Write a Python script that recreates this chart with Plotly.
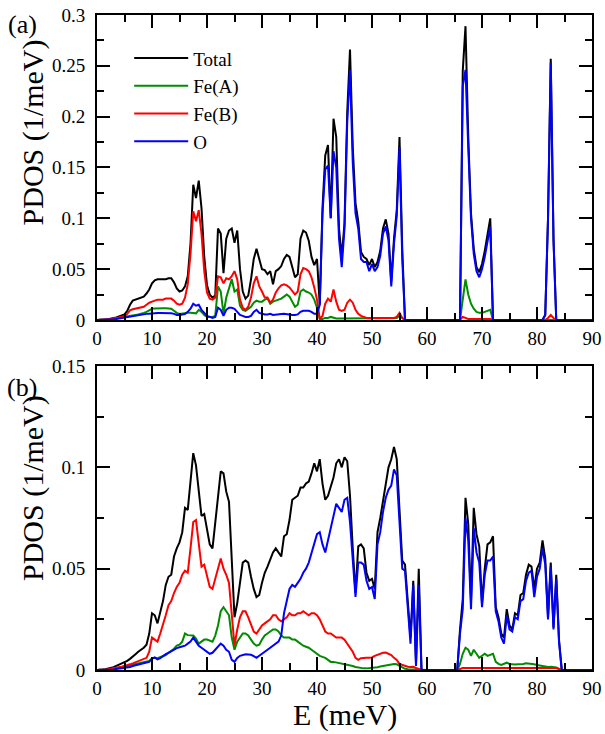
import numpy as np
import plotly.graph_objects as go

# Energy grid (meV), 0.5 meV step
E = np.arange(0, 90.25, 0.5)

# ---------------- Panel (a) ----------------
total_a = [
    0, 0, 0.0003, 0.0005, 0.0008, 0.0012, 0.0018, 0.0025, 0.0035, 0.0045, 0.0055, 0.009, 0.015, 0.019, 0.020, 0.021, 0.022, 0.023, 0.026, 0.030,
    0.036, 0.039, 0.040, 0.040, 0.040, 0.040, 0.041, 0.041, 0.037, 0.031, 0.028, 0.029, 0.033, 0.043, 0.075, 0.133, 0.120, 0.137, 0.110, 0.062,
    0.034, 0.025, 0.022, 0.024, 0.090, 0.085, 0.046, 0.080, 0.088, 0.090, 0.076, 0.088, 0.050, 0.028, 0.021, 0.024, 0.040, 0.060, 0.070, 0.060,
    0.050, 0.049, 0.045, 0.048, 0.035, 0.048, 0.050, 0.053, 0.060, 0.064, 0.062, 0.052, 0.042, 0.045, 0.080, 0.088, 0.086, 0.078, 0.062, 0.054,
    0.060, 0.015, 0.110, 0.162, 0.172, 0.100, 0.198, 0.180, 0.090, 0.062, 0.095, 0.205, 0.266, 0.170, 0.115, 0.097, 0.067, 0.062, 0.060, 0.054,
    0.060, 0.052, 0.057, 0.068, 0.090, 0.099, 0.085, 0.038, 0.080, 0.108, 0.180, 0.070, 0, 0, 0, 0, 0, 0, 0, 0,
    0, 0, 0, 0, 0, 0, 0, 0, 0, 0, 0, 0, 0, 0.245, 0.289, 0.180, 0.105, 0.070, 0.052, 0.047,
    0.055, 0.068, 0.085, 0.100, 0, 0, 0, 0, 0, 0, 0, 0, 0, 0, 0, 0, 0, 0, 0, 0,
    0, 0, 0, 0.005, 0.100, 0.257, 0.080, 0, 0, 0, 0, 0, 0, 0, 0, 0, 0, 0, 0, 0,
    0,
]
feA_a = [
    0, 0, 0.0001, 0.0003, 0.0005, 0.0008, 0.0012, 0.0016, 0.002, 0.0025, 0.003, 0.0035, 0.004, 0.0045, 0.005, 0.0055, 0.006, 0.007, 0.008, 0.0095,
    0.011, 0.0112, 0.0115, 0.0115, 0.0115, 0.0115, 0.0115, 0.011, 0.009, 0.007, 0.006, 0.0065, 0.007, 0.007, 0.007, 0.007, 0.0065, 0.010, 0.008, 0.005,
    0.003, 0.003, 0.003, 0.004, 0.033, 0.028, 0.006, 0.022, 0.032, 0.040, 0.028, 0.030, 0.014, 0.010, 0.009, 0.011, 0.013, 0.017, 0.019, 0.018,
    0.018, 0.020, 0.021, 0.016, 0.018, 0.019, 0.020, 0.021, 0.023, 0.025, 0.023, 0.018, 0.013, 0.015, 0.028, 0.030, 0.028, 0.027, 0.025, 0.020,
    0.012, 0.001, 0.001, 0.002, 0.002, 0.003, 0.002, 0.0015, 0.0015, 0.0015, 0.0015, 0.0015, 0.0015, 0.0015, 0.0015, 0.0015, 0.0015, 0.0015, 0.0015, 0.0015,
    0.0015, 0.0015, 0.0015, 0.0015, 0.0015, 0.0015, 0.0015, 0.0015, 0.0015, 0.002, 0.004, 0.002, 0, 0, 0, 0, 0, 0, 0, 0,
    0, 0, 0, 0, 0, 0, 0, 0, 0, 0, 0, 0, 0, 0.020, 0.040, 0.025, 0.016, 0.011, 0.008, 0.007,
    0.007, 0.008, 0.009, 0.010, 0, 0, 0, 0, 0, 0, 0, 0, 0, 0, 0, 0, 0, 0, 0, 0,
    0, 0, 0, 0, 0, 0, 0, 0, 0, 0, 0, 0, 0, 0, 0, 0, 0, 0, 0, 0,
    0,
]
feB_a = [
    0, 0, 0.0002, 0.0004, 0.0006, 0.001, 0.0014, 0.002, 0.0025, 0.003, 0.0035, 0.006, 0.0095, 0.0105, 0.011, 0.0115, 0.012, 0.013, 0.015, 0.017,
    0.018, 0.019, 0.020, 0.020, 0.020, 0.021, 0.021, 0.021, 0.019, 0.016, 0.015, 0.016, 0.022, 0.035, 0.065, 0.107, 0.097, 0.108, 0.085, 0.048,
    0.027, 0.021, 0.020, 0.022, 0.043, 0.042, 0.036, 0.041, 0.040, 0.043, 0.048, 0.040, 0.020, 0.012, 0.010, 0.013, 0.022, 0.036, 0.043, 0.033,
    0.028, 0.022, 0.022, 0.017, 0.020, 0.027, 0.031, 0.034, 0.035, 0.034, 0.032, 0.028, 0.025, 0.028, 0.045, 0.051, 0.050, 0.048, 0.042, 0.032,
    0.020, 0.001, 0.004, 0.016, 0.021, 0.018, 0.030, 0.018, 0.010, 0.009, 0.010, 0.017, 0.020, 0.017, 0.010, 0.006, 0.004, 0.003, 0.002, 0.002,
    0.002, 0.002, 0.002, 0.002, 0.002, 0.002, 0.002, 0.002, 0.002, 0.003, 0.007, 0.002, 0, 0, 0, 0, 0, 0, 0, 0,
    0, 0, 0, 0, 0, 0, 0, 0, 0, 0, 0, 0, 0, 0.003, 0.002, 0.001, 0.001, 0.001, 0.001, 0.001,
    0.001, 0.001, 0.001, 0.001, 0, 0, 0, 0, 0, 0, 0, 0, 0, 0, 0, 0, 0, 0, 0, 0,
    0, 0, 0, 0, 0.002, 0.005, 0.002, 0, 0, 0, 0, 0, 0, 0, 0, 0, 0, 0, 0, 0,
    0,
]
o_a = [
    0, 0, 0, 0.0001, 0.0002, 0.0004, 0.0007, 0.001, 0.0015, 0.002, 0.0025, 0.003, 0.0035, 0.004, 0.0045, 0.005, 0.0052, 0.0055, 0.006, 0.0062,
    0.0066, 0.0068, 0.0068, 0.0068, 0.0068, 0.0068, 0.0068, 0.0065, 0.006, 0.005, 0.005, 0.0055, 0.0058, 0.008, 0.011, 0.016, 0.014, 0.015, 0.010, 0.007,
    0.004, 0.003, 0.002, 0.003, 0.012, 0.010, 0.004, 0.010, 0.012, 0.012, 0.011, 0.008, 0.005, 0.004, 0.003, 0.003, 0.004, 0.008, 0.010, 0.007,
    0.006, 0.0055, 0.0055, 0.006, 0.005, 0.0055, 0.0055, 0.0058, 0.006, 0.0055, 0.0055, 0.005, 0.005, 0.0055, 0.008, 0.009, 0.009, 0.009, 0.008, 0.006,
    0.006, 0.015, 0.105, 0.148, 0.152, 0.100, 0.166, 0.150, 0.080, 0.052, 0.090, 0.195, 0.246, 0.155, 0.105, 0.090, 0.060, 0.057, 0.057, 0.048,
    0.055, 0.048, 0.052, 0.063, 0.085, 0.092, 0.078, 0.033, 0.075, 0.102, 0.170, 0.060, 0, 0, 0, 0, 0, 0, 0, 0,
    0, 0, 0, 0, 0, 0, 0, 0, 0, 0, 0, 0, 0, 0.230, 0.246, 0.170, 0.100, 0.065, 0.048, 0.042,
    0.050, 0.062, 0.078, 0.092, 0, 0, 0, 0, 0, 0, 0, 0, 0, 0, 0, 0, 0, 0, 0, 0,
    0, 0, 0, 0.005, 0.098, 0.253, 0.078, 0, 0, 0, 0, 0, 0, 0, 0, 0, 0, 0, 0, 0,
    0,
]

# ---------------- Panel (b) ----------------
total_b = [
    0, 0, 0.0002, 0.0004, 0.0007, 0.001, 0.0014, 0.002, 0.0026, 0.0032, 0.0038, 0.0045, 0.0055, 0.0065, 0.0078, 0.009, 0.010, 0.011, 0.0125, 0.018,
    0.028, 0.027, 0.023, 0.028, 0.034, 0.042, 0.046, 0.047, 0.056, 0.060, 0.063, 0.068, 0.080, 0.079, 0.092, 0.107, 0.101, 0.089, 0.076, 0.077,
    0.069, 0.062, 0.060, 0.072, 0.085, 0.098, 0.097, 0.088, 0.083, 0.050, 0.026, 0.033, 0.043, 0.053, 0.054, 0.053, 0.046, 0.040, 0.036, 0.037,
    0.043, 0.048, 0.051, 0.055, 0.058, 0.060, 0.058, 0.056, 0.066, 0.067, 0.074, 0.084, 0.085, 0.086, 0.090, 0.090, 0.092, 0.093, 0.097, 0.102,
    0.098, 0.104, 0.092, 0.084, 0.086, 0.090, 0.095, 0.102, 0.104, 0.100, 0.105, 0.103, 0.086, 0.060, 0.038, 0.061, 0.062, 0.060, 0.048, 0.044,
    0.045, 0.040, 0.068, 0.075, 0.083, 0.093, 0.100, 0.104, 0.110, 0.104, 0.077, 0.054, 0.052, 0.032, 0.016, 0.044, 0.003, 0.050, 0, 0,
    0, 0, 0, 0, 0, 0, 0, 0, 0, 0, 0, 0, 0.020, 0.035, 0.085, 0.072, 0.034, 0.080, 0.067, 0.061,
    0.033, 0.050, 0.062, 0.063, 0.066, 0.031, 0.026, 0.018, 0.016, 0.030, 0.022, 0.020, 0.028, 0.027, 0.037, 0.038, 0.047, 0.052, 0.051, 0.040,
    0.050, 0.053, 0.064, 0.055, 0.026, 0.053, 0.021, 0.047, 0.015, 0, 0, 0, 0, 0, 0, 0, 0, 0, 0, 0,
    0,
]
feA_b = [
    0, 0, 0.0001, 0.0002, 0.0003, 0.0005, 0.0007, 0.0009, 0.0011, 0.0014, 0.0017, 0.002, 0.0023, 0.0026, 0.0029, 0.0032, 0.0035, 0.0038, 0.004, 0.0045,
    0.0058, 0.006, 0.0058, 0.0063, 0.007, 0.0074, 0.0085, 0.0095, 0.0105, 0.012, 0.0125, 0.014, 0.018, 0.0172, 0.017, 0.017, 0.0155, 0.013, 0.014, 0.015,
    0.015, 0.0145, 0.014, 0.017, 0.022, 0.029, 0.031, 0.029, 0.027, 0.016, 0.010, 0.014, 0.016, 0.018, 0.018, 0.017, 0.015, 0.013, 0.012, 0.0125,
    0.015, 0.017, 0.018, 0.019, 0.020, 0.020, 0.019, 0.017, 0.016, 0.016, 0.016, 0.015, 0.015, 0.014, 0.013, 0.012, 0.0115, 0.011, 0.010, 0.009,
    0.008, 0.007, 0.0065, 0.006, 0.005, 0.004, 0.004, 0.0037, 0.0035, 0.0032, 0.003, 0.0028, 0.0025, 0.002, 0.0015, 0.0012, 0.001, 0.0008, 0.0008, 0.0009,
    0.001, 0.0012, 0.0014, 0.0017, 0.002, 0.0022, 0.0026, 0.003, 0.003, 0.0028, 0.002, 0.001, 0.0006, 0.0004, 0.0003, 0.0002, 0.0001, 0, 0, 0,
    0, 0, 0, 0, 0, 0, 0, 0, 0, 0, 0, 0, 0.003, 0.008, 0.011, 0.010, 0.007, 0.010, 0.008, 0.006,
    0.007, 0.008, 0.007, 0.0074, 0.008, 0.004, 0.003, 0.0025, 0.003, 0.0036, 0.003, 0.0027, 0.0027, 0.0028, 0.0028, 0.003, 0.0033, 0.0032, 0.003, 0.0028,
    0.0025, 0.0022, 0.002, 0.0016, 0.0015, 0.0016, 0.0014, 0.0013, 0.0005, 0, 0, 0, 0, 0, 0, 0, 0, 0, 0, 0,
    0,
]
feB_b = [
    0, 0, 0.0001, 0.0002, 0.0004, 0.0006, 0.0008, 0.001, 0.0013, 0.0016, 0.002, 0.0023, 0.0028, 0.0033, 0.0038, 0.0042, 0.0048, 0.0055, 0.006, 0.009,
    0.016, 0.015, 0.014, 0.018, 0.022, 0.027, 0.032, 0.034, 0.038, 0.041, 0.043, 0.047, 0.049, 0.048, 0.060, 0.073, 0.074, 0.063, 0.051, 0.052,
    0.046, 0.041, 0.040, 0.045, 0.049, 0.055, 0.050, 0.047, 0.043, 0.029, 0.012, 0.020, 0.026, 0.029, 0.029, 0.026, 0.022, 0.019, 0.018, 0.020,
    0.022, 0.023, 0.024, 0.025, 0.027, 0.027, 0.025, 0.024, 0.025, 0.026, 0.028, 0.027, 0.027, 0.028, 0.028, 0.029, 0.028, 0.027, 0.028, 0.028,
    0.027, 0.025, 0.022, 0.019, 0.018, 0.018, 0.017, 0.016, 0.016, 0.016, 0.015, 0.013, 0.011, 0.009, 0.006, 0.005, 0.0058, 0.006, 0.006, 0.006,
    0.0062, 0.007, 0.0075, 0.008, 0.0085, 0.0086, 0.008, 0.0074, 0.006, 0.005, 0.003, 0.0025, 0.002, 0.0016, 0.0015, 0.0016, 0.001, 0.0005, 0, 0,
    0, 0, 0, 0, 0, 0, 0, 0, 0, 0, 0, 0, 0.0005, 0.001, 0.001, 0.001, 0.001, 0.001, 0.001, 0.001,
    0.001, 0.001, 0.001, 0.001, 0.001, 0.001, 0.001, 0.001, 0.001, 0.001, 0.001, 0.001, 0.001, 0.001, 0.001, 0.001, 0.001, 0.001, 0.001, 0.001,
    0.001, 0.001, 0.001, 0.001, 0.001, 0.001, 0.001, 0.001, 0.0005, 0, 0, 0, 0, 0, 0, 0, 0, 0, 0, 0,
    0,
]
o_b = [
    0, 0, 0, 0, 0, 0.0002, 0.0003, 0.0005, 0.0007, 0.0009, 0.001, 0.0012, 0.0015, 0.002, 0.0024, 0.0028, 0.003, 0.0034, 0.0037, 0.004,
    0.0055, 0.0062, 0.0052, 0.0058, 0.007, 0.0078, 0.0085, 0.0094, 0.010, 0.0108, 0.0112, 0.0115, 0.012, 0.013, 0.014, 0.016, 0.014, 0.012, 0.011, 0.010,
    0.009, 0.008, 0.0085, 0.010, 0.0115, 0.013, 0.012, 0.010, 0.009, 0.005, 0.004, 0.006, 0.007, 0.0075, 0.0078, 0.0077, 0.0075, 0.0068, 0.006, 0.007,
    0.0078, 0.009, 0.010, 0.011, 0.012, 0.013, 0.014, 0.017, 0.028, 0.034, 0.040, 0.042, 0.041, 0.043, 0.045, 0.048, 0.050, 0.053, 0.058, 0.062,
    0.067, 0.068, 0.062, 0.058, 0.064, 0.071, 0.076, 0.082, 0.080, 0.078, 0.084, 0.085, 0.073, 0.055, 0.036, 0.053, 0.053, 0.052, 0.044, 0.040,
    0.041, 0.035, 0.062, 0.068, 0.078, 0.085, 0.089, 0.091, 0.099, 0.096, 0.074, 0.050, 0.049, 0.029, 0.013, 0.042, 0.002, 0.042, 0, 0,
    0, 0, 0, 0, 0, 0, 0, 0, 0, 0, 0, 0, 0.018, 0.030, 0.075, 0.064, 0.030, 0.070, 0.058, 0.053,
    0.031, 0.047, 0.054, 0.054, 0.056, 0.029, 0.024, 0.016, 0.013, 0.027, 0.020, 0.019, 0.026, 0.025, 0.034, 0.035, 0.044, 0.048, 0.049, 0.036,
    0.046, 0.050, 0.060, 0.052, 0.025, 0.051, 0.020, 0.045, 0.014, 0, 0, 0, 0, 0, 0, 0, 0, 0, 0, 0,
    0,
]

for arr in (total_a, feA_a, feB_a, o_a, total_b, feA_b, feB_b, o_b):
    assert len(arr) == len(E), len(arr)

names = ["Total", "Fe(A)", "Fe(B)", "O"]
colors = ["#000000", "#008c00", "#ff0000", "#0000ff"]

FONT = "Liberation Serif, Times New Roman, serif"

fig = go.Figure()
for name, col, ya in zip(names, colors, (total_a, feA_a, feB_a, o_a)):
    fig.add_trace(go.Scatter(x=E, y=ya, mode="lines", name=name, legendgroup=name,
                             line=dict(color=col, width=2), xaxis="x", yaxis="y"))
for name, col, yb in zip(names, colors, (total_b, feA_b, feB_b, o_b)):
    fig.add_trace(go.Scatter(x=E, y=yb, mode="lines", name=name, showlegend=False,
                             line=dict(color=col, width=2), xaxis="x2", yaxis="y2"))

def xax(anchor):
    return dict(range=[0, 90], dtick=10, tick0=0, ticks="inside", ticklen=13, tickwidth=2,
                tickcolor="black", mirror="ticks", showline=True, linewidth=2, linecolor="black",
                showgrid=False, zeroline=False, anchor=anchor, automargin=False,
                tickfont=dict(family=FONT, size=19, color="black"),
                minor=dict(dtick=5, tick0=0, ticks="inside", ticklen=7, tickwidth=2, tickcolor="black"))

def yax(rng, domain, anchor):
    return dict(range=rng, dtick=0.05, tick0=0, ticks="inside", ticklen=13, tickwidth=2,
                tickcolor="black", mirror="ticks", showline=True, linewidth=2, linecolor="black",
                showgrid=False, zeroline=False, domain=domain, anchor=anchor, automargin=False,
                tickfont=dict(family=FONT, size=19, color="black"), ticklabelstandoff=6,
                minor=dict(dtick=0.025, tick0=0, ticks="inside", ticklen=7, tickwidth=2, tickcolor="black"))

def ann(text, x, y, size, angle=0):
    return dict(text=text, x=x, y=y, xref="paper", yref="paper", showarrow=False,
                xanchor="center", yanchor="middle", textangle=angle,
                font=dict(family=FONT, size=size, color="black"))

fig.update_layout(
    width=605, height=734,
    margin=dict(l=97, r=13, t=15, b=64, autoexpand=False),
    paper_bgcolor="white", plot_bgcolor="white",
    xaxis=xax("y"),
    yaxis=yax([0, 0.3], [0.5344, 1.0], "x"),
    xaxis2=xax("y2"),
    yaxis2=yax([0, 0.15], [0.0, 0.4641], "x2"),
    showlegend=True,
    legend=dict(x=0.065, y=0.963, xanchor="left", yanchor="top", bgcolor="rgba(0,0,0,0)",
                font=dict(family=FONT, size=19, color="black"), traceorder="grouped",
                tracegroupgap=0, itemwidth=54),
    annotations=[
        ann("(a)", -0.1515, 0.986, 26),
        ann("(b)", -0.1515, 0.432, 26),
        ann("PDOS (1/meV)", -0.129, 0.821, 30, -90),
        ann("PDOS (1/meV)", -0.129, 0.278, 30, -90),
        ann("E (meV)", 0.5, -0.0687, 30),
    ],
)

fig.write_html("out.html", config={"displayModeBar": False},
               post_script="document.body.style.margin='0px';document.body.style.overflow='hidden';")
